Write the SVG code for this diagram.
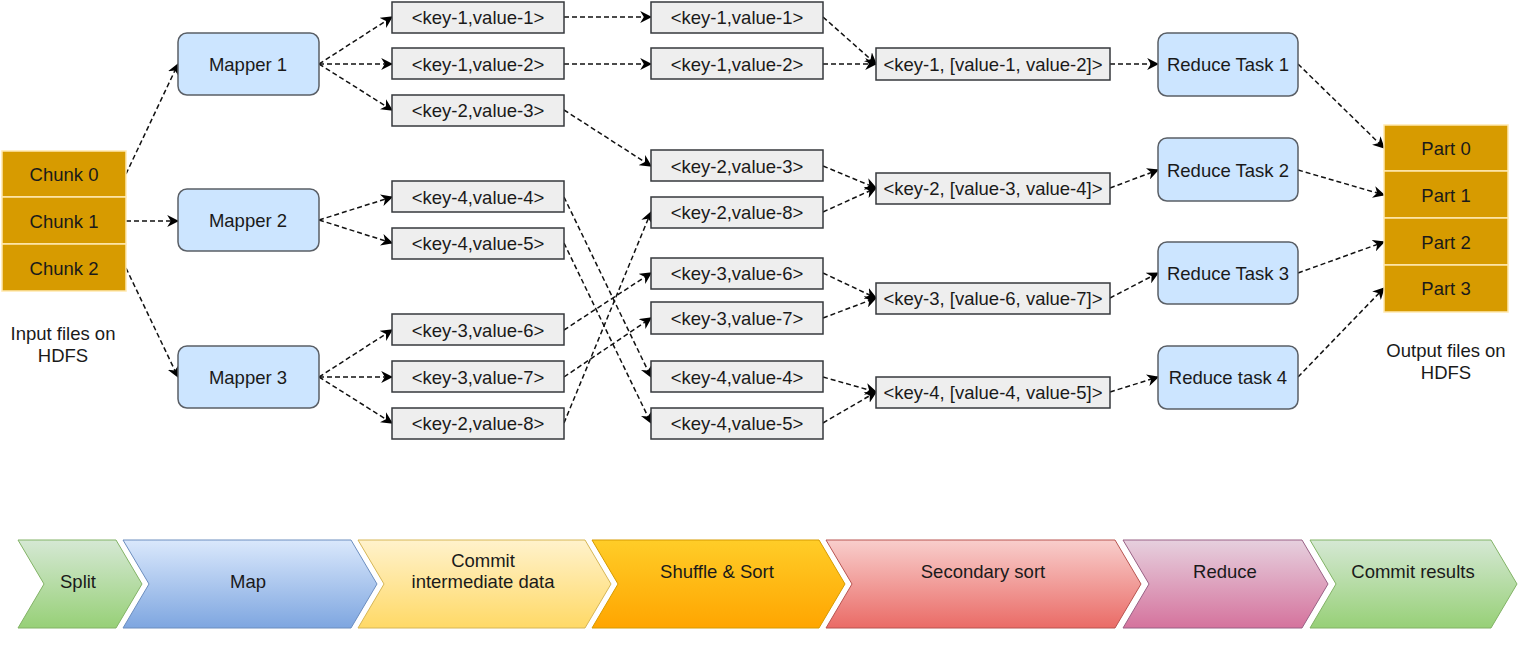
<svg xmlns="http://www.w3.org/2000/svg" width="1535" height="645" viewBox="0 0 1535 645">
<style>
text{font-family:"Liberation Sans",Arial,sans-serif;fill:#1a1a1a;text-anchor:middle;dominant-baseline:central}
.t{font-size:18.5px}
.chunk{fill:#d79b00;stroke:#ffe9b0;stroke-width:1.5}
.mapper{fill:#cce5ff;stroke:#5a5f66;stroke-width:1.5}
.kv{fill:#eeeeee;stroke:#36393d;stroke-width:1.5}
.conn path{fill:none;stroke:#111;stroke-width:1.5;stroke-dasharray:5 3;marker-end:url(#ah)}
</style>
<defs>
<marker id="ah" viewBox="0 0 10 10" refX="9" refY="5" markerWidth="12" markerHeight="12" markerUnits="userSpaceOnUse" orient="auto">
<path d="M0,0 L10,5 L0,10 L3,5 Z" fill="#000" stroke="none"/>
</marker>
<linearGradient id="gGreen" x1="0" y1="0" x2="0" y2="1"><stop offset="0" stop-color="#d5e8d4"/><stop offset="1" stop-color="#97d077"/></linearGradient>
<linearGradient id="gBlue" x1="0" y1="0" x2="0" y2="1"><stop offset="0" stop-color="#dae8fc"/><stop offset="1" stop-color="#7ea6e0"/></linearGradient>
<linearGradient id="gYellow" x1="0" y1="0" x2="0" y2="1"><stop offset="0" stop-color="#fff2cc"/><stop offset="1" stop-color="#ffd966"/></linearGradient>
<linearGradient id="gOrange" x1="0" y1="0" x2="0" y2="1"><stop offset="0" stop-color="#ffcd28"/><stop offset="1" stop-color="#ffa500"/></linearGradient>
<linearGradient id="gRed" x1="0" y1="0" x2="0" y2="1"><stop offset="0" stop-color="#f8cecc"/><stop offset="1" stop-color="#ea6b66"/></linearGradient>
<linearGradient id="gPurple" x1="0" y1="0" x2="0" y2="1"><stop offset="0" stop-color="#e6d0de"/><stop offset="1" stop-color="#d5739d"/></linearGradient>
</defs>
<rect width="1535" height="645" fill="#fff"/>

<g id="connectors" class="conn">
<path d="M126,174 L178,64"/>
<path d="M126,221 L178,221"/>
<path d="M126,268 L178,377"/>
<path d="M319,64 L392,17"/>
<path d="M319,64 L392,64"/>
<path d="M319,64 L392,110"/>
<path d="M319,220 L392,197"/>
<path d="M319,220 L392,243"/>
<path d="M319,377 L392,330"/>
<path d="M319,377 L392,377"/>
<path d="M319,377 L392,423"/>
<path d="M564,17 L651,17"/>
<path d="M564,64 L651,64"/>
<path d="M564,110 L651,166"/>
<path d="M564,197 L651,377"/>
<path d="M564,243 L651,423"/>
<path d="M564,330 L651,273"/>
<path d="M564,377 L651,318"/>
<path d="M564,423 L651,212"/>
<path d="M823,17 L876,64"/>
<path d="M823,64 L876,64"/>
<path d="M823,166 L876,188"/>
<path d="M823,212 L876,188"/>
<path d="M823,273 L876,298"/>
<path d="M823,318 L876,298"/>
<path d="M823,377 L876,392"/>
<path d="M823,423 L876,392"/>
<path d="M1110,64 L1158,64"/>
<path d="M1110,188 L1158,170"/>
<path d="M1110,298 L1158,273"/>
<path d="M1110,392 L1158,377"/>
<path d="M1298,64 L1384,148"/>
<path d="M1298,170 L1384,195"/>
<path d="M1298,273 L1384,242"/>
<path d="M1298,377 L1384,288"/>
</g>

<g id="input">
<g id="chunk0"><rect class="chunk" x="2" y="151" width="124" height="46"/><text class="t" x="64" y="174">Chunk 0</text></g>
<g id="chunk1"><rect class="chunk" x="2" y="197" width="124" height="47"/><text class="t" x="64" y="221">Chunk 1</text></g>
<g id="chunk2"><rect class="chunk" x="2" y="244" width="124" height="47"/><text class="t" x="64" y="268">Chunk 2</text></g>
<g id="input-label"><text class="t" x="63" y="333">Input files on</text><text class="t" x="63" y="355">HDFS</text></g>
</g>

<g id="mapper1"><rect class="mapper" x="178" y="33" width="141" height="62" rx="9"/><text class="t" x="248" y="64">Mapper 1</text></g>
<g id="mapper2"><rect class="mapper" x="178" y="189" width="141" height="62" rx="9"/><text class="t" x="248" y="220">Mapper 2</text></g>
<g id="mapper3"><rect class="mapper" x="178" y="346" width="141" height="62" rx="9"/><text class="t" x="248" y="377">Mapper 3</text></g>

<g id="m-k1v1"><rect class="kv" x="392" y="2" width="172" height="31"/><text class="t" x="478" y="17">&lt;key-1,value-1&gt;</text></g>
<g id="m-k1v2"><rect class="kv" x="392" y="48" width="172" height="31"/><text class="t" x="478" y="64">&lt;key-1,value-2&gt;</text></g>
<g id="m-k2v3"><rect class="kv" x="392" y="95" width="172" height="31"/><text class="t" x="478" y="110">&lt;key-2,value-3&gt;</text></g>
<g id="m-k4v4"><rect class="kv" x="392" y="181" width="172" height="31"/><text class="t" x="478" y="197">&lt;key-4,value-4&gt;</text></g>
<g id="m-k4v5"><rect class="kv" x="392" y="228" width="172" height="31"/><text class="t" x="478" y="243">&lt;key-4,value-5&gt;</text></g>
<g id="m-k3v6"><rect class="kv" x="392" y="314" width="172" height="31"/><text class="t" x="478" y="330">&lt;key-3,value-6&gt;</text></g>
<g id="m-k3v7"><rect class="kv" x="392" y="361" width="172" height="31"/><text class="t" x="478" y="377">&lt;key-3,value-7&gt;</text></g>
<g id="m-k2v8"><rect class="kv" x="392" y="408" width="172" height="31"/><text class="t" x="478" y="423">&lt;key-2,value-8&gt;</text></g>

<g id="s-k1v1"><rect class="kv" x="651" y="2" width="172" height="31"/><text class="t" x="737" y="17">&lt;key-1,value-1&gt;</text></g>
<g id="s-k1v2"><rect class="kv" x="651" y="48" width="172" height="31"/><text class="t" x="737" y="64">&lt;key-1,value-2&gt;</text></g>
<g id="s-k2v3"><rect class="kv" x="651" y="150" width="172" height="31"/><text class="t" x="737" y="166">&lt;key-2,value-3&gt;</text></g>
<g id="s-k2v8"><rect class="kv" x="651" y="197" width="172" height="31"/><text class="t" x="737" y="212">&lt;key-2,value-8&gt;</text></g>
<g id="s-k3v6"><rect class="kv" x="651" y="258" width="172" height="31"/><text class="t" x="737" y="273">&lt;key-3,value-6&gt;</text></g>
<g id="s-k3v7"><rect class="kv" x="651" y="302" width="172" height="32"/><text class="t" x="737" y="318">&lt;key-3,value-7&gt;</text></g>
<g id="s-k4v4"><rect class="kv" x="651" y="361" width="172" height="31"/><text class="t" x="737" y="377">&lt;key-4,value-4&gt;</text></g>
<g id="s-k4v5"><rect class="kv" x="651" y="408" width="172" height="31"/><text class="t" x="737" y="423">&lt;key-4,value-5&gt;</text></g>

<g id="g-k1"><rect class="kv" x="876" y="48" width="234" height="32"/><text class="t" x="993" y="64">&lt;key-1, [value-1, value-2]&gt;</text></g>
<g id="g-k2"><rect class="kv" x="876" y="173" width="234" height="31"/><text class="t" x="993" y="188">&lt;key-2, [value-3, value-4]&gt;</text></g>
<g id="g-k3"><rect class="kv" x="876" y="283" width="234" height="31"/><text class="t" x="993" y="298">&lt;key-3, [value-6, value-7]&gt;</text></g>
<g id="g-k4"><rect class="kv" x="876" y="377" width="234" height="31"/><text class="t" x="993" y="392">&lt;key-4, [value-4, value-5]&gt;</text></g>

<g id="reduce1"><rect class="mapper" x="1158" y="33" width="140" height="63" rx="9"/><text class="t" x="1228" y="64">Reduce Task 1</text></g>
<g id="reduce2"><rect class="mapper" x="1158" y="138" width="140" height="63" rx="9"/><text class="t" x="1228" y="170">Reduce Task 2</text></g>
<g id="reduce3"><rect class="mapper" x="1158" y="242" width="140" height="62" rx="9"/><text class="t" x="1228" y="273">Reduce Task 3</text></g>
<g id="reduce4"><rect class="mapper" x="1158" y="346" width="140" height="63" rx="9"/><text class="t" x="1228" y="377">Reduce task 4</text></g>

<g id="output">
<g id="part0"><rect class="chunk" x="1384" y="125" width="124" height="46"/><text class="t" x="1446" y="148">Part 0</text></g>
<g id="part1"><rect class="chunk" x="1384" y="171" width="124" height="47"/><text class="t" x="1446" y="195">Part 1</text></g>
<g id="part2"><rect class="chunk" x="1384" y="218" width="124" height="47"/><text class="t" x="1446" y="242">Part 2</text></g>
<g id="part3"><rect class="chunk" x="1384" y="265" width="124" height="47"/><text class="t" x="1446" y="288">Part 3</text></g>
<g id="output-label"><text class="t" x="1446" y="350">Output files on</text><text class="t" x="1446" y="372">HDFS</text></g>
</g>

<g id="phases">
<g id="ph-split"><polygon points="18,540 116,540 142,584 116,628 18,628 44,584" fill="url(#gGreen)" stroke="#82b366"/><text class="t" x="78" y="581">Split</text></g>
<g id="ph-map"><polygon points="123,540 351,540 377,584 351,628 123,628 149,584" fill="url(#gBlue)" stroke="#6c8ebf"/><text class="t" x="248" y="581">Map</text></g>
<g id="ph-commit"><polygon points="358,540 585,540 611,584 585,628 358,628 384,584" fill="url(#gYellow)" stroke="#d6b656"/><text class="t" x="483" y="560">Commit</text><text class="t" x="483" y="581">intermediate data</text></g>
<g id="ph-shuffle"><polygon points="592,540 819,540 845,584 819,628 592,628 618,584" fill="url(#gOrange)" stroke="#d79b00"/><text class="t" x="717" y="571">Shuffle &amp; Sort</text></g>
<g id="ph-secondary"><polygon points="826,540 1115,540 1141,584 1115,628 826,628 852,584" fill="url(#gRed)" stroke="#b85450"/><text class="t" x="983" y="571">Secondary sort</text></g>
<g id="ph-reduce"><polygon points="1123,540 1302,540 1328,584 1302,628 1123,628 1149,584" fill="url(#gPurple)" stroke="#996185"/><text class="t" x="1225" y="571">Reduce</text></g>
<g id="ph-commit-results"><polygon points="1310,540 1491,540 1517,584 1491,628 1310,628 1336,584" fill="url(#gGreen)" stroke="#82b366"/><text class="t" x="1413" y="571">Commit results</text></g>
</g>
</svg>
